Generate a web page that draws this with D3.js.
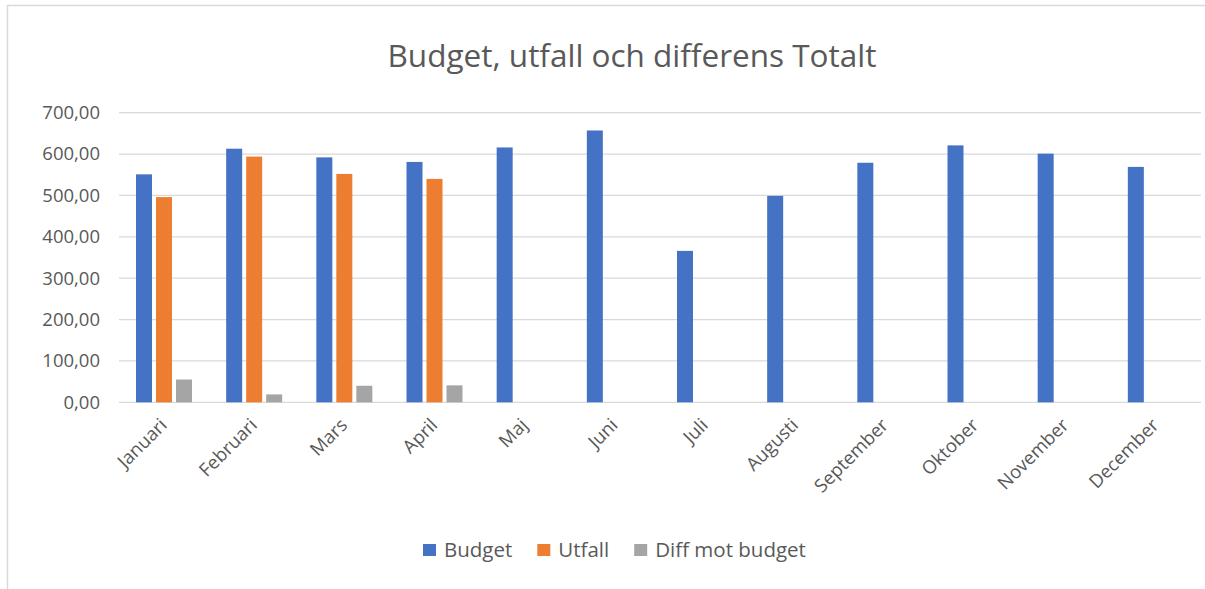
<!DOCTYPE html>
<html>
<head>
<meta charset="utf-8">
<script src="https://cdn.jsdelivr.net/npm/d3@7"></script>
<style>
  body { margin: 0; background: #fff; }
  svg text { font-family: "Open Sans", "Noto Sans", sans-serif; fill: #595959; }
</style>
</head>
<body>
<div id="chart"></div>
<script>
// data
var months = ["Januari", "Februari", "Mars", "April", "Maj", "Juni", "Juli",
              "Augusti", "September", "Oktober", "November", "December"];
var budget = [551, 613, 592, 581, 616, 657, 366, 499, 579, 621, 601, 569];
var utfall = [496, 594, 552, 540, 0, 0, 0, 0, 0, 0, 0, 0];
var diff = [55, 19, 40, 41, 0, 0, 0, 0, 0, 0, 0, 0];
var seriesNames = ["Budget", "Utfall", "Diff mot budget"];
var colors = ["#4472C4", "#ED7D31", "#A5A5A5"];
var yTicks = [0, 100, 200, 300, 400, 500, 600, 700];

var W = 1205, H = 589;
var plotLeft = 119, plotRight = 1201, plotTop = 112.7, plotBottom = 402.3;

var svg = d3.select("#chart")
  .append("svg")
  .attr("width", W)
  .attr("height", H);

// chart border
svg.append("path")
  .attr("d", "M7.5," + H + "V5.5H" + W)
  .attr("fill", "none")
  .attr("stroke", "#d9d9d9")
  .attr("stroke-width", 1.5);

svg.append("text")
  .attr("x", 632)
  .attr("y", 67)
  .attr("text-anchor", "middle")
  .style("font-size", "31.5px")
  .text("Budget, utfall och differens Totalt");

var x = d3.scaleBand().domain(months).range([plotLeft, plotRight]);
var x1 = d3.scaleBand().domain(seriesNames)
  .range([17, 73]).paddingInner(0.2);
var y = d3.scaleLinear().domain([0, 700]).range([plotBottom, plotTop]);

// gridlines
svg.append("g")
  .selectAll("line")
  .data(yTicks)
  .enter()
  .append("line")
  .attr("x1", plotLeft)
  .attr("x2", plotRight)
  .attr("y1", function(d){ return y(d); })
  .attr("y2", function(d){ return y(d); })
  .attr("stroke", "#d9d9d9")
  .attr("stroke-width", 1.3);

// y axis labels
var yAxis = d3.axisLeft(y)
  .tickValues(yTicks)
  .tickSize(0)
  .tickPadding(0)
  .tickFormat(function(d){ return d3.format(".2f")(d).replace(".", ","); });

var yg = svg.append("g")
  .attr("transform", "translate(100,0)")
  .call(yAxis);
yg.select(".domain").remove();
yg.selectAll("text")
  .style("font-size", "18.5px")
  .attr("fill", "#595959")
  .attr("font-family", null);

// bars
var allSeries = [budget, utfall, diff];
var rows = [];
allSeries.forEach(function(vals, s){
  vals.forEach(function(v, i){
    rows.push({ month: months[i], series: seriesNames[s], value: v, color: colors[s] });
  });
});

svg.append("g")
  .selectAll("rect")
  .data(rows.filter(function(d){ return d.value > 0; }))
  .enter()
  .append("rect")
  .attr("x", function(d){ return x(d.month) + x1(d.series); })
  .attr("width", x1.bandwidth())
  .attr("y", function(d){ return y(d.value); })
  .attr("height", function(d){ return plotBottom - y(d.value); })
  .attr("fill", function(d){ return d.color; });

// x axis labels
var xAxis = d3.axisBottom(x).tickSize(0).tickPadding(0);
var xg = svg.append("g")
  .attr("transform", "translate(0," + plotBottom + ")")
  .call(xAxis);
xg.select(".domain").remove();
xg.selectAll("text")
  .style("font-size", "18.5px")
  .attr("fill", "#595959")
  .attr("font-family", null)
  .attr("text-anchor", "end")
  .attr("dy", null)
  .attr("y", 0)
  .attr("transform", "translate(4,24) rotate(-45)");

// legend
var legend = svg.append("g");
var lx = 423;
seriesNames.forEach(function(name, i){
  legend.append("rect")
    .attr("x", lx)
    .attr("y", 544)
    .attr("width", 13)
    .attr("height", 12)
    .attr("fill", colors[i]);
  var t = legend.append("text")
    .attr("x", lx + 21)
    .attr("y", 557)
    .style("font-size", "20.5px")
    .text(name);
  lx = lx + 21 + t.node().getComputedTextLength() + 25;
});
</script>
</body>
</html>
